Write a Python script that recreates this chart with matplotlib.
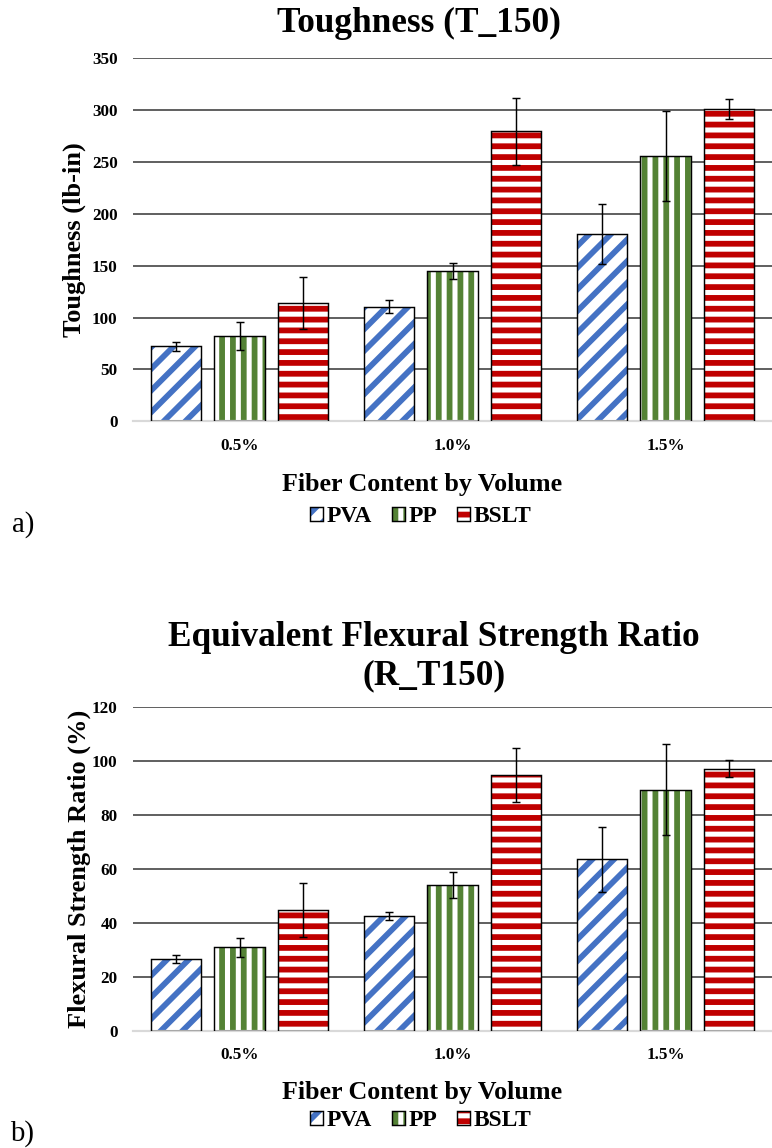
import matplotlib
matplotlib.use("Agg")
import matplotlib.pyplot as plt
import numpy as np
from matplotlib.legend_handler import HandlerTuple

# Fiber dosage groups and fiber types
categories = ["0.5%", "1.0%", "1.5%"]
fiber_types = ["PVA", "PP", "BSLT"]

# Toughness T_150 (lb-in), mean and error
tough_pva = [72.3, 110.5, 181.0]
tough_pp = [82.0, 145.0, 255.5]
tough_bslt = [114.4, 279.5, 301.0]
tough_pva_err = [4.5, 6.5, 29.0]
tough_pp_err = [13.5, 8.0, 43.5]
tough_bslt_err = [25.0, 32.0, 10.0]

# Equivalent flexural strength ratio R_T150 (%), mean and error
ratio_pva = [26.5, 42.6, 63.5]
ratio_pp = [31.0, 54.1, 89.4]
ratio_bslt = [44.7, 94.8, 97.2]
ratio_pva_err = [1.5, 1.5, 12.0]
ratio_pp_err = [3.5, 4.8, 17.0]
ratio_bslt_err = [10.0, 10.0, 3.0]

DPI = 130
W, H = 772, 1148
SERIF = ["Liberation Serif", "DejaVu Serif"]

C_PVA = "#4472C4"
C_PP = "#548235"
C_BSLT = "#C00000"
COLORS = [C_PVA, C_PP, C_BSLT]
HATCHES = ["//", "||", "--"]

plt.rcParams["font.family"] = SERIF
plt.rcParams["font.weight"] = "bold"
plt.rcParams["hatch.linewidth"] = 3.2

fig = plt.figure(figsize=(W / DPI, H / DPI), dpi=DPI)
fig.patch.set_facecolor("white")


def px(x, y):
    return x / W, 1 - y / H


BAR_W = 0.235
STEP = 0.296


def panel(rect, means, errs, ymax, ystep):
    ax = fig.add_axes(rect)
    x = np.arange(len(categories))
    handles = []
    for k, (vals, err) in enumerate(zip(means, errs)):
        pos = x + (k - 1) * STEP
        fill = ax.bar(pos, vals, BAR_W, color="white", edgecolor=COLORS[k],
                      hatch=HATCHES[k], linewidth=0, zorder=2)
        outline = ax.bar(pos, vals, BAR_W, color="none", edgecolor="black",
                         linewidth=0.8, zorder=3)
        ax.errorbar(pos, vals, yerr=err, fmt="none", ecolor="black",
                    elinewidth=0.8, capsize=2.0, capthick=0.8, zorder=4)
        handles.append((fill[0], outline[0]))
    ax.set_xlim(-0.5, len(categories) - 0.5)
    ax.set_ylim(0, ymax)
    ax.set_yticks(np.arange(0, ymax + 1, ystep))
    ax.set_xticks(x)
    ax.set_xticklabels(categories)
    ax.set_axisbelow(True)
    ax.yaxis.grid(True, color="#404040", linewidth=0.9)
    for side in ["left", "right", "top"]:
        ax.spines[side].set_visible(False)
    ax.spines["bottom"].set_color("#D9D9D9")
    ax.spines["bottom"].set_linewidth(1.2)
    ax.tick_params(axis="both", length=0, labelsize=9.5)
    ax.tick_params(axis="y", pad=8.5)
    ax.tick_params(axis="x", pad=9)
    for lab in ax.get_xticklabels() + ax.get_yticklabels():
        lab.set_fontweight("bold")
    return ax, handles


def legend(handles, y):
    fig.legend(handles, fiber_types, loc="center", bbox_to_anchor=px(421, y),
               ncol=3, frameon=False, handlelength=0.55, handleheight=0.55,
               handletextpad=0.15, columnspacing=0.85,
               handler_map={tuple: HandlerTuple(ndivide=1, pad=0)},
               prop={"weight": "bold", "size": 13})


# ── a) Toughness ──
top_rect = [133 / W, 1 - 421.3 / H, 639 / W, (421.3 - 58.3) / H]
ax1, h1 = panel(top_rect, [tough_pva, tough_pp, tough_bslt],
                [tough_pva_err, tough_pp_err, tough_bslt_err], 350, 50)
fig.text(*px(419, 23), "Toughness (T_150)", ha="center", va="center",
         fontsize=19.5, fontweight="bold")
fig.text(*px(74, 240), "Toughness (lb-in)", ha="center", va="center",
         rotation=90, fontsize=14.6, fontweight="bold")
fig.text(*px(422, 484), "Fiber Content by Volume", ha="center", va="center",
         fontsize=14.4, fontweight="bold")
legend(h1, 517)
fig.text(*px(23, 525), "a)", ha="center", va="center", fontsize=16,
         fontweight="normal")

# ── b) Flexural strength ratio ──
bot_rect = [133 / W, 1 - 1030.7 / H, 639 / W, (1030.7 - 707) / H]
ax2, h2 = panel(bot_rect, [ratio_pva, ratio_pp, ratio_bslt],
                [ratio_pva_err, ratio_pp_err, ratio_bslt_err], 120, 20)
fig.text(*px(434, 638), "Equivalent Flexural Strength Ratio", ha="center",
         va="center", fontsize=19.5, fontweight="bold")
fig.text(*px(434, 676), "(R_T150)", ha="center", va="center",
         fontsize=19.5, fontweight="bold")
fig.text(*px(79, 869), "Flexural Strength Ratio (%)", ha="center",
         va="center", rotation=90, fontsize=14.6, fontweight="bold")
fig.text(*px(422, 1092), "Fiber Content by Volume", ha="center", va="center",
         fontsize=14.4, fontweight="bold")
legend(h2, 1121)
fig.text(*px(22, 1134), "b)", ha="center", va="center", fontsize=16,
         fontweight="normal")

fig.savefig("out.png", dpi=DPI)
